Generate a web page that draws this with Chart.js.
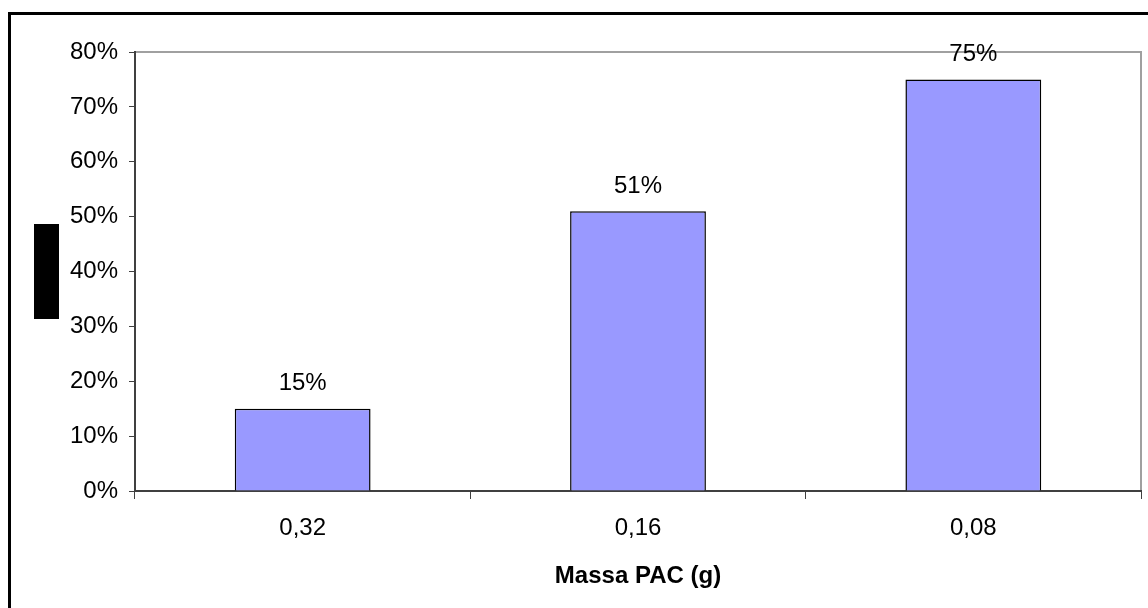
<!DOCTYPE html>
<html>
<head>
<meta charset="utf-8">
<script src="https://cdn.jsdelivr.net/npm/chart.js@4/dist/chart.umd.min.js"></script>
<style>
  html, body { margin: 0; padding: 0; background: #ffffff; }
  canvas { display: block; }
</style>
</head>
<body>
<canvas id="chart" width="1148" height="608"></canvas>
<script>
// PAC mass samples and the removal measured for each
const categories = ['0,32', '0,16', '0,08'];
const removal = [15, 51, 75];
const yTicks = [0, 10, 20, 30, 40, 50, 60, 70, 80];
const xTitle = 'Massa PAC (g)';

const FONT = '"Liberation Sans", Arial, sans-serif';

// white page, outer frame, plot-area border and the dark side block
const framePlugin = {
  id: 'frame',
  beforeDraw(chart) {
    const ctx = chart.ctx;
    const { left, right, top, bottom } = chart.chartArea;
    ctx.save();
    ctx.fillStyle = '#ffffff';
    ctx.fillRect(0, 0, chart.width, chart.height);
    ctx.strokeStyle = '#000000';
    ctx.lineWidth = 3;
    ctx.beginPath();
    ctx.moveTo(9.5, chart.height + 2);
    ctx.lineTo(9.5, 13.5);
    ctx.lineTo(chart.width + 2, 13.5);
    ctx.stroke();
    ctx.strokeStyle = '#a0a0a0';
    ctx.lineWidth = 2;
    ctx.beginPath();
    ctx.moveTo(left, top);
    ctx.lineTo(right, top);
    ctx.lineTo(right, bottom);
    ctx.stroke();
    ctx.fillStyle = '#000000';
    ctx.fillRect(34, 224, 25, 95);
    ctx.restore();
  }
};

// value written above each bar
const valueLabels = {
  id: 'valueLabels',
  afterDatasetsDraw(chart) {
    const ctx = chart.ctx;
    const meta = chart.getDatasetMeta(0);
    const data = chart.data.datasets[0].data;
    ctx.save();
    ctx.font = '24px ' + FONT;
    ctx.fillStyle = '#000000';
    ctx.textAlign = 'center';
    ctx.textBaseline = 'middle';
    meta.data.forEach((bar, i) => {
      ctx.fillText(data[i] + '%', bar.x, bar.y - 25);
    });
    ctx.restore();
  }
};

new Chart(document.getElementById('chart'), {
  type: 'bar',
  data: {
    labels: categories,
    datasets: [{
      data: removal,
      backgroundColor: '#9999ff',
      borderColor: '#000000',
      borderWidth: 1.5,
      barPercentage: 0.405,
      categoryPercentage: 1.0
    }]
  },
  options: {
    responsive: false,
    devicePixelRatio: 1,
    animation: false,
    layout: { padding: { top: 52, right: 7, left: 0, bottom: 0 } },
    plugins: {
      legend: { display: false },
      tooltip: { enabled: false }
    },
    scales: {
      x: {
        afterFit(scale) { scale.height = 117; },
        grid: {
          offset: true,
          drawOnChartArea: false,
          drawTicks: true,
          tickLength: 8,
          color: '#404040',
          lineWidth: 1
        },
        border: { color: '#404040', width: 2 },
        ticks: {
          color: '#000000',
          font: { family: FONT, size: 24 },
          padding: 15
        },
        title: {
          display: true,
          text: xTitle,
          color: '#000000',
          font: { family: FONT, size: 24, weight: 'bold' },
          padding: { top: 0, bottom: 17 }
        }
      },
      y: {
        min: 0,
        max: 80,
        afterFit(scale) { scale.width = 135; },
        afterBuildTicks(scale) { scale.ticks = yTicks.map(v => ({ value: v })); },
        grid: {
          drawOnChartArea: false,
          drawTicks: true,
          tickLength: 6,
          color: '#404040',
          lineWidth: 1
        },
        border: { color: '#404040', width: 2 },
        ticks: {
          color: '#000000',
          font: { family: FONT, size: 24 },
          padding: 11,
          callback: v => v + '%'
        }
      }
    }
  },
  plugins: [framePlugin, valueLabels]
});
</script>
</body>
</html>
